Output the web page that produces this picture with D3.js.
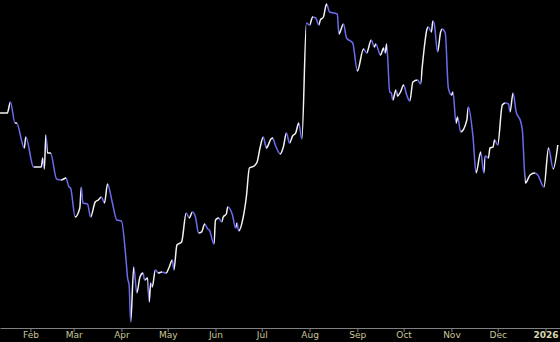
<!DOCTYPE html>
<html>
<head>
<meta charset="utf-8">
<script src="https://cdn.jsdelivr.net/npm/d3@7"></script>
<style>
  body { margin: 0; background: #000; }
  svg { display: block; }
</style>
</head>
<body>
<script>
// daily closes
const dates = [
  "2025-01-12","2025-01-17","2025-01-19","2025-01-22","2025-01-23","2025-01-28","2025-01-29",
  "2025-02-03","2025-02-05","2025-02-08","2025-02-09","2025-02-10","2025-02-11","2025-02-12",
  "2025-02-14","2025-02-18","2025-02-21","2025-02-24","2025-02-26","2025-02-27",
  "2025-03-02","2025-03-05","2025-03-06","2025-03-07","2025-03-10","2025-03-12","2025-03-15",
  "2025-03-17","2025-03-19","2025-03-21","2025-03-23","2025-03-26","2025-03-29",
  "2025-04-01","2025-04-04","2025-04-05","2025-04-06","2025-04-07","2025-04-09","2025-04-11",
  "2025-04-13","2025-04-15","2025-04-16","2025-04-18","2025-04-19","2025-04-20","2025-04-21",
  "2025-04-23","2025-04-25","2025-04-27","2025-04-30",
  "2025-05-02","2025-05-04","2025-05-05","2025-05-07","2025-05-10","2025-05-13","2025-05-15",
  "2025-05-17","2025-05-19","2025-05-21","2025-05-23","2025-05-25","2025-05-27","2025-05-28",
  "2025-05-31",
  "2025-06-01","2025-06-03","2025-06-05","2025-06-06","2025-06-08","2025-06-09","2025-06-12",
  "2025-06-14","2025-06-15","2025-06-16","2025-06-19","2025-06-21","2025-06-23","2025-06-26",
  "2025-06-28","2025-06-30",
  "2025-07-02","2025-07-04","2025-07-07","2025-07-08","2025-07-10","2025-07-13","2025-07-15",
  "2025-07-17","2025-07-19","2025-07-21","2025-07-23","2025-07-25","2025-07-27","2025-07-30",
  "2025-08-01","2025-08-03","2025-08-05","2025-08-07","2025-08-08","2025-08-10","2025-08-12",
  "2025-08-14","2025-08-17","2025-08-19","2025-08-20","2025-08-23","2025-08-25","2025-08-29",
  "2025-09-01","2025-09-05","2025-09-07","2025-09-10","2025-09-12","2025-09-13","2025-09-16",
  "2025-09-18","2025-09-19","2025-09-20","2025-09-22","2025-09-23","2025-09-24","2025-09-26",
  "2025-09-27","2025-09-29",
  "2025-10-01","2025-10-03","2025-10-05","2025-10-07","2025-10-10","2025-10-12","2025-10-13",
  "2025-10-15","2025-10-16","2025-10-17","2025-10-19","2025-10-20","2025-10-21","2025-10-23",
  "2025-10-25","2025-10-26","2025-10-28","2025-10-30",
  "2025-11-01","2025-11-02","2025-11-04","2025-11-05","2025-11-07","2025-11-11","2025-11-12",
  "2025-11-15","2025-11-17","2025-11-20","2025-11-22","2025-11-23","2025-11-25","2025-11-26",
  "2025-11-28","2025-11-29",
  "2025-12-01","2025-12-04","2025-12-06","2025-12-08","2025-12-09","2025-12-11","2025-12-13",
  "2025-12-16","2025-12-17","2025-12-19","2025-12-22","2025-12-25","2025-12-27","2025-12-31",
  "2026-01-03","2026-01-06","2026-01-09"
];

const closes = [
  217,217,228,207,207,182,193,
  163,163,163,172,161,195,177,
  177,151,150,152,143,142,
  113,122,143,127,126,113,128,
  130,133,127,146,128,110,
  109,70,52,45,8,63,37,
  53,57,50,52,28,47,43,
  60,57,58,57,
  63,70,60,85,88,117,112,
  118,113,97,98,106,101,100,
  86,
  110,112,108,113,116,123,115,
  102,107,99,113,133,162,164,
  168,183,
  193,182,191,192,184,176,183,
  197,187,194,197,207,191,307,
  305,313,312,305,310,313,326,
  318,317,316,296,306,292,287,
  259,281,277,290,283,286,275,
  282,277,286,238,237,230,240,
  234,238,
  245,235,229,248,250,246,262,
  290,300,303,298,309,305,278,
  298,301,297,242,
  235,238,207,213,198,210,223,
  193,157,178,157,174,172,182,
  183,190,
  185,225,227,226,218,237,218,
  208,200,147,155,157,155,143,
  182,161,185
];

const tickMonths = ["Feb","Mar","Apr","May","Jun","Jul","Aug","Sep","Oct","Nov","Dec"];

const width = 560, height = 342;
const upColor = "#f2f2f2", downColor = "#6b6bf0";

const data = dates.map(function (d, i) {
  return { date: d3.utcParse("%Y-%m-%d")(d), value: closes[i] };
});

const x = d3.scaleUtc()
  .domain([new Date(Date.UTC(2025, 0, 12, 6)), new Date(Date.UTC(2026, 0, 10, 10))])
  .range([0, width]);

const y = d3.scaleLinear()
  .domain([0, 330])
  .range([330, 0]);

const svg = d3.select("body")
  .append("svg")
  .attr("width", width)
  .attr("height", height);

svg.append("rect")
  .attr("width", width)
  .attr("height", height)
  .attr("fill", "#000");

// colour each stretch by direction: white going up, blue going down
const grad = svg.append("defs")
  .append("linearGradient")
  .attr("id", "dir")
  .attr("gradientUnits", "userSpaceOnUse")
  .attr("x1", 0).attr("x2", width)
  .attr("y1", 0).attr("y2", 0);

for (let i = 0; i < data.length - 1; i++) {
  const c = data[i + 1].value >= data[i].value ? upColor : downColor;
  const a = Math.max(0, Math.min(1, x(data[i].date) / width));
  const b = Math.max(0, Math.min(1, x(data[i + 1].date) / width));
  grad.append("stop").attr("offset", a).attr("stop-color", c);
  grad.append("stop").attr("offset", b).attr("stop-color", c);
}

const line = d3.line()
  .x(function (d) { return x(d.date); })
  .y(function (d) { return y(d.value); })
  .curve(d3.curveMonotoneX);

svg.append("path")
  .datum(data)
  .attr("fill", "none")
  .attr("stroke", "url(#dir)")
  .attr("stroke-width", 1.5)
  .attr("stroke-linejoin", "round")
  .attr("d", line);

const axis = d3.axisBottom(x)
  .ticks(d3.utcMonth.every(1))
  .tickSize(4)
  .tickSizeOuter(0)
  .tickFormat(function (d) {
    const m = d.getUTCMonth();
    return m === 0 ? d3.utcFormat("%Y")(d) : tickMonths[m - 1];
  });

const gx = svg.append("g")
  .attr("transform", "translate(0,328)")
  .call(axis);

gx.select(".domain").attr("stroke", "#808080");
gx.selectAll(".tick line").attr("stroke", "#808080");
gx.selectAll(".tick text")
  .attr("y", 4)
  .attr("fill", "#c8c89a")
  .attr("font-family", "DejaVu Sans")
  .attr("font-size", 9)
  .filter(function (d) { return d.getUTCMonth() === 0; })
  .attr("font-weight", "bold")
  .attr("fill", "#d8d8b0");
</script>
</body>
</html>
